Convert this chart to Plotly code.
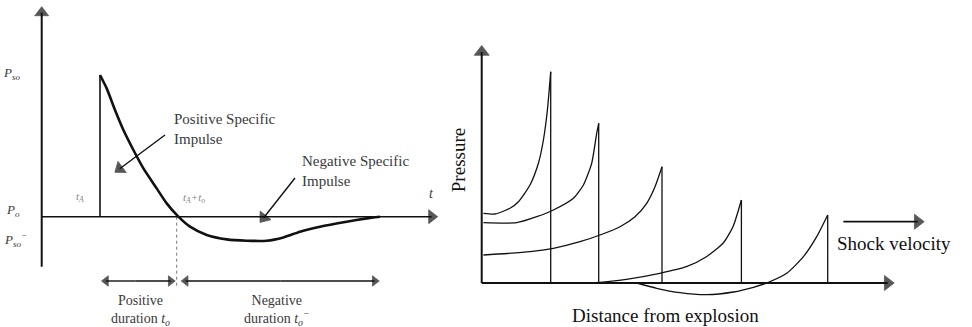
import plotly.graph_objects as go

# ---------------- Left panel: pressure-time history (arbitrary units) ----------------
t_curve = [5.83, 6.5, 7.33, 8.17, 9.17, 10.17, 11.5, 12.5, 13.67, 14.83, 16.5, 18.5,
           20.5, 22.5, 24.17, 25.83, 27.83, 30.5, 32.5, 33.83]
p_curve = [14.17, 12.83, 10.67, 8.67, 6.67, 4.83, 2.83, 1.33, 0.0, -1.0, -1.83, -2.27,
           -2.4, -2.4, -2.07, -1.5, -1.0, -0.5, -0.17, 0.0]
t_arrival = 5.83
p_peak = 14.17
t_zero = 13.5
p_dur = -6.43          # level of the duration arrows
t_end_pos = 12.9
t_start_neg = 14.4
t_end_neg = 33.3
t_axis_end = 39.0
p_axis_top = 20.4
p_axis_bot = -5.0

# ---------------- Right panel: pressure vs distance at successive times ----------------
d1 = [0.17, 1.33, 2.83, 3.67, 4.83, 5.67, 6.17, 6.57, 6.9]
p1 = [6.97, 6.9, 7.47, 8.13, 9.8, 11.97, 14.3, 17.3, 21.13]
d2 = [0.17, 3.5, 5.5, 7.17, 9.17, 10.17, 11.0, 11.5, 11.7]
p2 = [6.03, 6.03, 6.63, 7.3, 8.47, 9.8, 11.97, 14.97, 15.97]
d3 = [0.17, 4.83, 7.17, 9.83, 11.83, 13.83, 15.33, 16.5, 17.33, 18.03]
p3 = [2.8, 3.13, 3.47, 4.13, 4.8, 5.63, 6.63, 7.97, 9.63, 11.63]
d4 = [8.83, 11.8, 14.47, 17.8, 20.47, 22.47, 24.13, 25.13, 25.97]
p4 = [0.0, 0.07, 0.37, 0.97, 1.63, 2.63, 3.97, 5.63, 8.3]
d5 = [15.5, 17.5, 19.83, 22.5, 25.17, 27.17, 28.5, 30.5, 32.17, 33.5, 34.6]
p5 = [0.0, -0.53, -0.97, -1.17, -0.9, -0.43, 0.0, 0.97, 2.63, 4.63, 6.8]
waves_d = [d1, d2, d3, d4, d5]
waves_p = [p1, p2, p3, p4, p5]
d_axis_end = 40.6
pr_axis_top = 23.1

FONT = "Liberation Serif, Times New Roman, serif"
INK = "#111111"
GREY = "#3a3a3a"

fig = go.Figure()


def line(xs, ys, xa="x", ya="y", width=1.6, color=INK, dash="solid", spline=False):
    fig.add_trace(go.Scatter(
        x=xs, y=ys, mode="lines", xaxis=xa, yaxis=ya, hoverinfo="skip", showlegend=False,
        line=dict(color=color, width=width, dash=dash,
                  shape="spline" if spline else "linear", smoothing=0.6)))


def arrow(x0, y0, x1, y1, xa="x", ya="y", width=1.6, head=10):
    """Line from (x0, y0) to (x1, y1) with a filled triangular head at (x1, y1)."""
    fig.add_trace(go.Scatter(
        x=[x0, x1], y=[y0, y1], mode="lines+markers", xaxis=xa, yaxis=ya,
        hoverinfo="skip", showlegend=False, line=dict(color=INK, width=width),
        marker=dict(symbol="triangle-up", size=[0, head], angleref="previous", color=INK,
                    line=dict(width=0.8, color=INK))))


# left: vertical front, decaying curve, baseline, axes
line([t_arrival, t_arrival], [0, p_peak], width=1.6)
line(t_curve, p_curve, width=2.6, spline=True)
line([t_zero, t_zero], [0, -7.0], width=1, color="#777777", dash="dot")
arrow(0, 0, t_axis_end, 0, width=1.6, head=12)
arrow(0, p_axis_bot, 0, p_axis_top, width=2, head=12)
# duration arrows (double headed)
mid_pos = (t_arrival + t_end_pos) / 2
arrow(mid_pos, p_dur, t_arrival + 0.6, p_dur, width=1.4, head=9)
arrow(mid_pos, p_dur, t_end_pos, p_dur, width=1.4, head=9)
mid_neg = (t_start_neg + t_end_neg) / 2
arrow(mid_neg, p_dur, t_start_neg, p_dur, width=1.4, head=9)
arrow(mid_neg, p_dur, t_end_neg, p_dur, width=1.4, head=9)
# impulse pointers
arrow(12.33, 8.17, 7.8, 4.8, width=1.4, head=12)
arrow(25.33, 3.87, 22.2, -0.1, width=1.4, head=12)

# right: waves and their vertical shock fronts
for dd, pp in zip(waves_d, waves_p):
    line(dd, pp, xa="x2", ya="y2", width=1.3, spline=True)
    line([dd[-1], dd[-1]], [0, pp[-1]], xa="x2", ya="y2", width=1.3)
arrow(0, 0, 0, pr_axis_top, xa="x2", ya="y2", width=2, head=13)
arrow(0, 0, d_axis_end, 0, xa="x2", ya="y2", width=2, head=13)
arrow(36.17, 6.13, 43.6, 6.13, xa="x2", ya="y2", width=1.8, head=13)

ann = []


def label(x, y, text, xr="x", yr="y", size=13, xanchor="center", color=GREY,
          textangle=0, align="center"):
    ann.append(dict(x=x, y=y, xref=xr, yref=yr, text=text, showarrow=False,
                    xanchor=xanchor, yanchor="middle", align=align, textangle=textangle,
                    font=dict(family=FONT, size=size, color=color)))


label(-3.0, 14.37, "<i>P<sub>so</sub></i>", size=13)
label(-2.9, 0.67, "<i>P<sub>o</sub></i>", size=13)
label(-2.6, -2.33, "<i>P<sub>so</sub><sup>−</sup></i>", size=13)
label(3.83, 1.97, "<i>t<sub>A</sub></i>", size=11, color="#888888")
label(15.2, 1.87, "<i>t<sub>A</sub>+t<sub>o</sub></i>", size=11, color="#888888")
label(39.0, 2.37, "<i>t</i>", size=14)
label(13.03, 8.77, "Positive Specific<br>Impulse", size=15, xanchor="left", align="left")
label(25.83, 4.57, "Negative Specific<br>Impulse", size=15, xanchor="left", align="left")
label(9.83, -9.33, "Positive<br>duration <i>t<sub>o</sub></i>", size=14)
label(23.5, -9.33, "Negative<br>duration <i>t<sub>o</sub><sup>−</sup></i>", size=14)

label(41.2, 3.97, "Shock velocity", xr="x2", yr="y2", size=19, color=INK)
label(18.33, -3.2, "Distance from explosion", xr="x2", yr="y2", size=19, color=INK)
label(-2.35, 12.3, "Pressure", xr="x2", yr="y2", size=19, color=INK, textangle=-90)

axis_common = dict(visible=False, showgrid=False, zeroline=False, fixedrange=True)
fig.update_layout(
    width=972, height=327,
    margin=dict(l=0, r=0, t=0, b=0),
    paper_bgcolor="white", plot_bgcolor="white",
    showlegend=False,
    xaxis=dict(domain=[0, 440 / 972], range=[-4.17, 39.83], **axis_common),
    yaxis=dict(domain=[0, 1], range=[-11.03, 21.67], anchor="x", **axis_common),
    xaxis2=dict(domain=[440 / 972, 1], range=[-4.17, 49.03], anchor="y2", **axis_common),
    yaxis2=dict(domain=[0, 1], range=[-4.4, 28.3], anchor="x2", **axis_common),
    annotations=ann,
)

fig.write_html("out.html")
